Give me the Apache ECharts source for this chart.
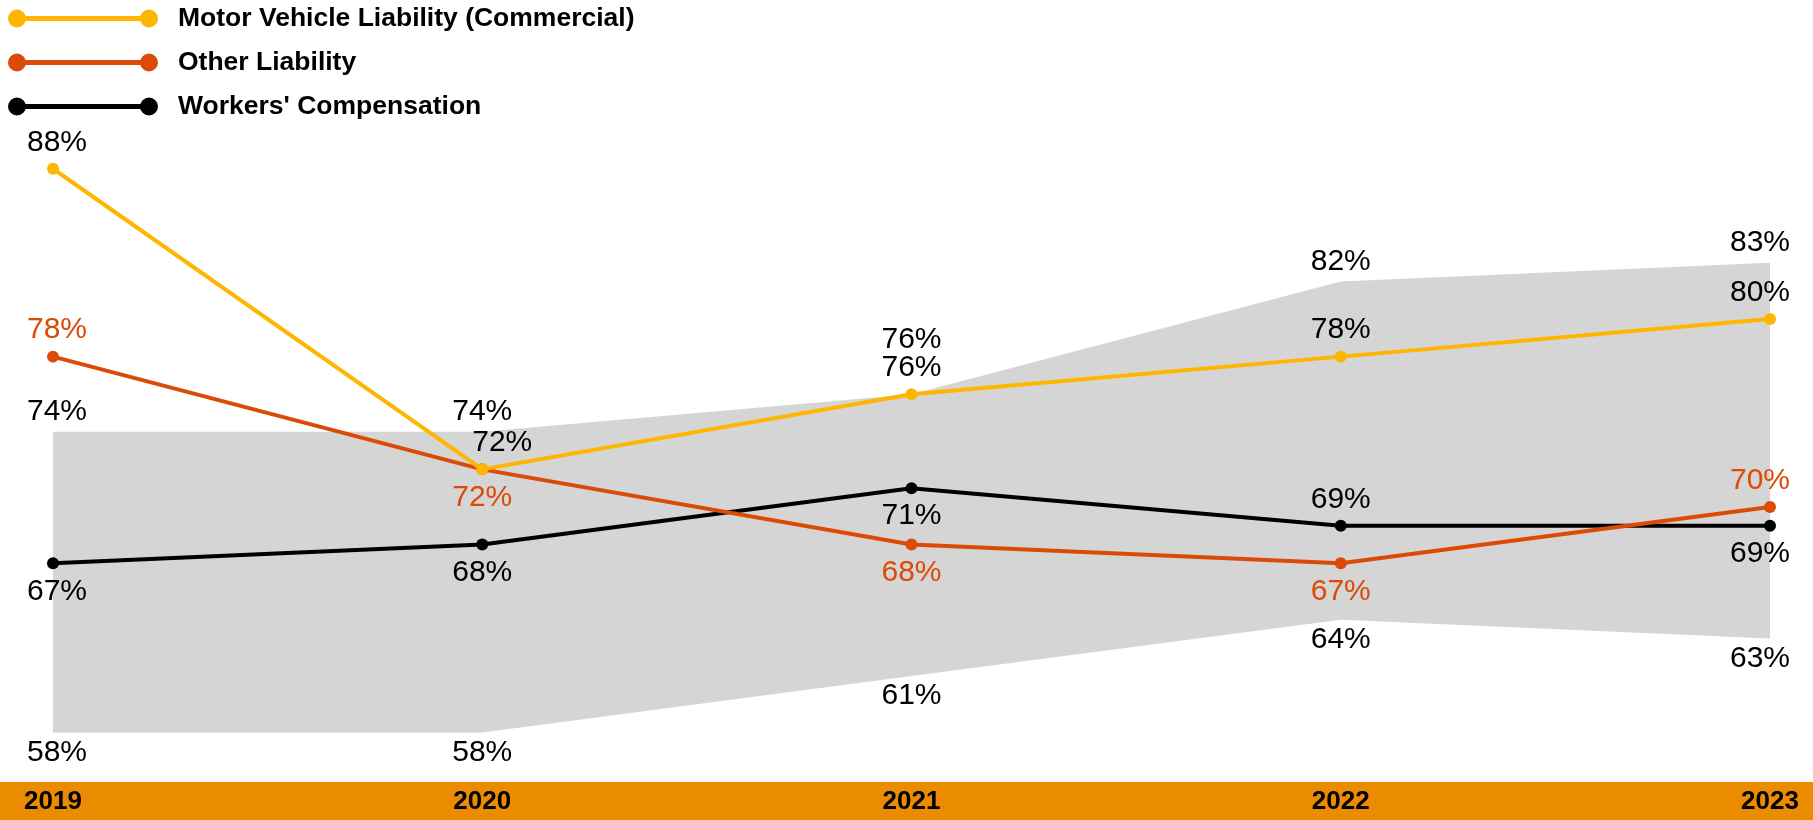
<!DOCTYPE html>
<html>
<head>
<meta charset="utf-8">
<script src="https://cdn.jsdelivr.net/npm/echarts@6/dist/echarts.min.js"></script>
<style>
  html, body { margin: 0; padding: 0; background: #fff; }
  #chart { width: 1813px; height: 820px; }
</style>
</head>
<body>
<div id="chart"></div>
<script>
// Years on the category axis
const years = ['2019', '2020', '2021', '2022', '2023'];

// Loss-ratio style percentages per line of business
const motorVehicle = [88, 72, 76, 78, 80];
const otherLiability = [78, 72, 68, 67, 70];
const workersComp = [67, 68, 71, 69, 69];

// Range band (upper and lower bounds)
const bandUpper = [74, 74, 76, 82, 83];
const bandLower = [58, 58, 61, 64, 63];

// Where each value label sits relative to its point
const motorLabelPos = ['top', 'top', 'top', 'top', 'top'];
const otherLabelPos = ['top', 'bottom', 'bottom', 'bottom', 'top'];
const workersLabelPos = ['bottom', 'bottom', 'bottom', 'top', 'bottom'];

const FONT = '"Liberation Sans", Arial, Helvetica, sans-serif';
const COLORS = {
  motor: '#FFB600',
  other: '#DC4A08',
  workers: '#000000',
  band: '#D5D5D5',
  axisBar: '#EB8C00'
};

// Nudge labels at the chart edges inward
function edgeDx(i) {
  if (i === 0) return 4;
  if (i === years.length - 1) return -10;
  return 0;
}

function pct(v) { return v + '%'; }

function lineData(values, positions, extraDx) {
  return values.map((v, i) => ({
    value: v,
    label: {
      position: positions[i],
      distance: positions[i] === 'top' ? 5.5 : 7,
      offset: [edgeDx(i) + (extraDx ? (extraDx[i] || 0) : 0), 0]
    }
  }));
}

// Legend icon: a bar with a dot at each end
const legendIcon = 'path://M0,9A9,9 0 1,1 18,9A9,9 0 1,1 0,9Z M9,6.5L141,6.5L141,11.5L9,11.5Z M132,9A9,9 0 1,1 150,9A9,9 0 1,1 132,9Z';

const labelBase = {
  show: true,
  fontFamily: FONT,
  fontSize: 30,
  distance: 7,
  formatter: p => pct(p.value)
};

const chart = echarts.init(document.getElementById('chart'), null, { renderer: 'canvas' });

const option = {
  animation: false,
  backgroundColor: '#ffffff',
  textStyle: { fontFamily: FONT },
  grid: { left: 53, right: 43, top: 56, bottom: 50, containLabel: false },
  graphic: [{
    type: 'rect',
    left: 0,
    bottom: 0,
    z: -10,
    silent: true,
    shape: { width: 1813, height: 38 },
    style: { fill: COLORS.axisBar }
  }],
  legend: {
    orient: 'vertical',
    left: 8,
    top: 5,
    padding: 0,
    icon: legendIcon,
    itemWidth: 150,
    itemHeight: 18,
    itemGap: 17,
    selectedMode: false,
    data: ['Motor Vehicle Liability (Commercial)', 'Other Liability', "Workers' Compensation"],
    textStyle: {
      fontFamily: FONT,
      fontSize: 26.5,
      fontWeight: 'bold',
      color: '#000',
      lineHeight: 26,
      padding: [0, 0, 0, 15]
    }
  },
  xAxis: {
    type: 'category',
    data: years,
    boundaryGap: false,
    axisLine: { show: false },
    axisTick: { show: false },
    splitLine: { show: false },
    axisLabel: {
      margin: 19,
      fontFamily: FONT,
      fontSize: 26,
      fontWeight: 'bold',
      color: '#000',
      verticalAlign: 'top'
    }
  },
  yAxis: {
    type: 'value',
    min: 56,
    max: 94,
    show: false,
    splitLine: { show: false }
  },
  series: [
    {
      name: 'bandLower',
      type: 'line',
      stack: 'band',
      data: bandLower.map((v, i) => ({
        value: v,
        label: { offset: [edgeDx(i), 0] }
      })),
      symbol: 'circle',
      symbolSize: 0.1,
      itemStyle: { color: 'rgba(0,0,0,0)' },
      lineStyle: { opacity: 0 },
      silent: true,
      z: 1,
      label: Object.assign({}, labelBase, { position: 'bottom', distance: 5, color: '#000' }),
      emphasis: { disabled: true }
    },
    {
      name: 'bandSpan',
      type: 'line',
      stack: 'band',
      data: bandUpper.map((u, i) => ({
        value: u - bandLower[i],
        label: { distance: i === 2 ? 39 : 5, offset: [edgeDx(i), 0] }
      })),
      symbol: 'circle',
      symbolSize: 0.1,
      itemStyle: { color: 'rgba(0,0,0,0)' },
      lineStyle: { opacity: 0 },
      areaStyle: { color: COLORS.band, opacity: 1 },
      silent: true,
      z: 1,
      label: Object.assign({}, labelBase, {
        position: 'top',
        color: '#000',
        formatter: p => pct(bandUpper[p.dataIndex])
      }),
      emphasis: { disabled: true }
    },
    {
      name: "Workers' Compensation",
      type: 'line',
      data: lineData(workersComp, workersLabelPos),
      symbol: 'circle',
      symbolSize: 12,
      lineStyle: { width: 4, color: COLORS.workers },
      itemStyle: { color: COLORS.workers },
      label: Object.assign({}, labelBase, { color: '#000' }),
      z: 3,
      emphasis: { disabled: true }
    },
    {
      name: 'Other Liability',
      type: 'line',
      data: lineData(otherLiability, otherLabelPos),
      symbol: 'circle',
      symbolSize: 12,
      lineStyle: { width: 4, color: COLORS.other },
      itemStyle: { color: COLORS.other },
      label: Object.assign({}, labelBase, { color: COLORS.other }),
      z: 4,
      emphasis: { disabled: true }
    },
    {
      name: 'Motor Vehicle Liability (Commercial)',
      type: 'line',
      data: lineData(motorVehicle, motorLabelPos, [0, 20, 0, 0, 0]),
      symbol: 'circle',
      symbolSize: 12,
      lineStyle: { width: 4, color: COLORS.motor },
      itemStyle: { color: COLORS.motor },
      label: Object.assign({}, labelBase, { color: '#000' }),
      z: 5,
      emphasis: { disabled: true }
    }
  ]
};

chart.setOption(option);
</script>
</body>
</html>
